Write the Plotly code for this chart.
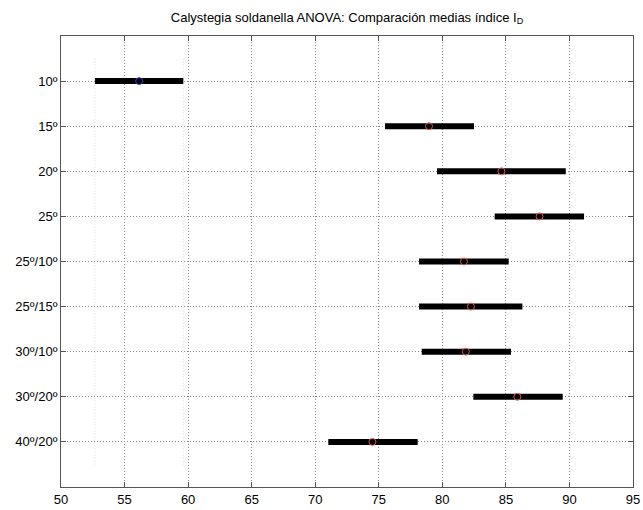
import plotly.graph_objects as go

groups = ["10º", "15º", "20º", "25º", "25º/10º", "25º/15º", "30º/10º", "30º/20º", "40º/20º"]
means = [56.15, 78.95, 84.65, 87.65, 81.7, 82.25, 81.85, 85.9, 74.5]
lower = [52.67, 75.49, 79.58, 84.12, 78.17, 78.17, 78.38, 82.44, 71.03]
upper = [59.62, 82.49, 89.71, 91.15, 85.22, 86.3, 85.4, 89.47, 78.06]
x_ticks = [50, 55, 60, 65, 70, 75, 80, 85, 90, 95]

ypos = list(range(1, len(groups) + 1))
n = len(groups)

fig = go.Figure()

# faint reference lines at the selected group's interval ends
for xv in (lower[0], upper[0]):
    fig.add_trace(go.Scatter(
        x=[xv, xv], y=[0.5, n + 0.5], mode="lines",
        line=dict(color="#d8d8d8", width=1, dash="1px,2px"),
        hoverinfo="skip", showlegend=False))

# interval bars
bx, by = [], []
for lo, hi, y in zip(lower, upper, ypos):
    bx += [lo, hi, None]
    by += [y, y, None]
fig.add_trace(go.Scatter(x=bx, y=by, mode="lines",
                         line=dict(color="black", width=6),
                         showlegend=False))

# means
colors = ["#3a3ad0"] + ["#e05050"] * (n - 1)
fig.add_trace(go.Scatter(x=means, y=ypos, mode="markers",
                         marker=dict(symbol="circle-open", size=7,
                                     color=colors, line=dict(width=1)),
                         showlegend=False))

axis_font = dict(family="Liberation Sans, Arial, sans-serif", size=13, color="black")

common = dict(showgrid=True, gridcolor="#8a8a8a", griddash="1px,2px", gridwidth=1,
              showline=True, linecolor="#555555", linewidth=1, mirror="ticks",
              ticks="inside", ticklen=5, tickcolor="#555555",
              zeroline=False, tickfont=axis_font, automargin=False)

fig.update_layout(
    width=643, height=510,
    margin=dict(l=61, r=10, t=36, b=23),
    paper_bgcolor="white", plot_bgcolor="white",
    title=dict(text="Calystegia soldanella ANOVA: Comparación medias índice I<sub>D</sub>",
               x=(61 + 633) / 2 / 643, xanchor="center",
               y=1 - 17 / 510, yanchor="middle", yref="container",
               font=dict(family="Liberation Sans, Arial, sans-serif", size=13, color="black")),
    xaxis=dict(range=[50, 95], tickvals=x_ticks, ticktext=[str(v) for v in x_ticks],
               ticklabeloverflow="allow", **common),
    yaxis=dict(range=[n + 1, 0], tickvals=ypos, ticktext=groups, **common),
)

fig.write_html("out.html",
               config={"displayModeBar": False},
               post_script="document.body.style.margin='0';document.body.style.overflow='hidden';")
